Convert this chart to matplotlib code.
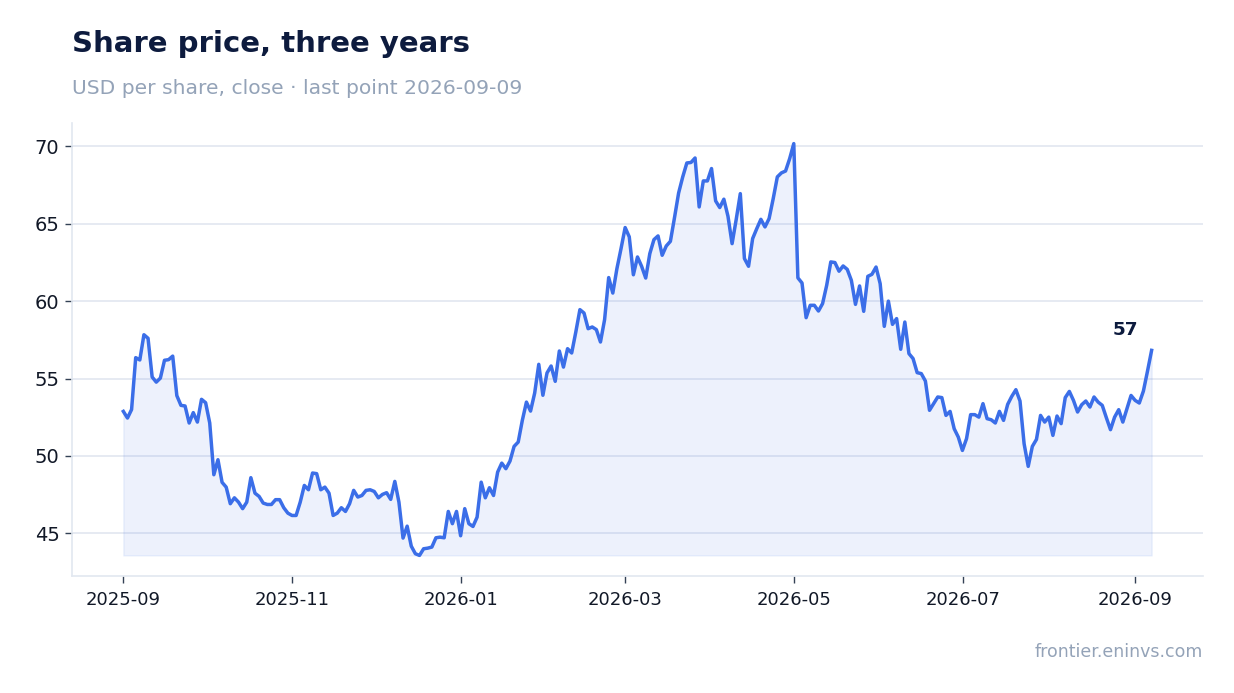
import numpy as np
import pandas as pd
import matplotlib
matplotlib.use('Agg')
import matplotlib.pyplot as plt
import matplotlib.dates as mdates

# closing prices in order
price = [
    52.88, 52.45, 53.0, 56.35, 56.2, 57.83, 57.6, 55.1, 54.77, 55.03,
    56.18, 56.22, 56.45, 53.9, 53.27, 53.23, 52.13, 52.8, 52.19, 53.66,
    53.44, 52.13, 48.79, 49.76, 48.3, 47.99, 46.92, 47.3, 47.02, 46.6,
    47.02, 48.6, 47.6, 47.39, 46.96, 46.87, 46.87, 47.18, 47.18, 46.66,
    46.31, 46.16, 46.16, 47.02, 48.1, 47.82, 48.9, 48.86, 47.82, 47.99,
    47.6, 46.16, 46.31, 46.66, 46.42, 46.92, 47.78, 47.35, 47.45, 47.78,
    47.82, 47.71, 47.3, 47.52, 47.63, 47.2, 48.36, 47.02, 44.7, 45.47,
    44.18, 43.69, 43.58, 44.01, 44.05, 44.12, 44.72, 44.76, 44.72, 46.42,
    45.63, 46.42, 44.85, 46.6, 45.63, 45.45, 46.05, 48.31, 47.3, 47.95,
    47.45, 48.96, 49.54, 49.18, 49.67, 50.62, 50.9, 52.3, 53.48, 52.9,
    54.06, 55.92, 53.92, 55.36, 55.81, 54.82, 56.78, 55.74, 56.93, 56.65,
    58.0, 59.45, 59.23, 58.22, 58.33, 58.16, 57.36, 58.8, 61.52, 60.52,
    62.1, 63.39, 64.75, 64.15, 61.7, 62.85, 62.25, 61.49, 63.07, 63.97,
    64.21, 62.96, 63.56, 63.86, 65.39, 66.98, 68.02, 68.92, 68.95, 69.24,
    66.08, 67.76, 67.76, 68.56, 66.47, 66.04, 66.58, 65.48, 63.71, 65.27,
    66.94, 62.75, 62.25, 64.04, 64.68, 65.28, 64.79, 65.33, 66.62, 68.02,
    68.28, 68.4, 69.2, 70.17, 61.5, 61.17, 58.93, 59.73, 59.73, 59.36,
    59.84, 61.02, 62.53, 62.49, 61.93, 62.27, 62.05, 61.34, 59.79, 60.98,
    59.34, 61.6, 61.73, 62.2, 61.13, 58.37, 60.0, 58.5, 58.87, 56.89,
    58.65, 56.61, 56.29, 55.38, 55.32, 54.84, 52.95, 53.38, 53.81, 53.77,
    52.62, 52.88, 51.76, 51.22, 50.36, 51.12, 52.67, 52.67, 52.51, 53.38,
    52.41, 52.34, 52.13, 52.88, 52.3, 53.33, 53.85, 54.28, 53.55, 50.79,
    49.33, 50.62, 51.07, 52.62, 52.19, 52.51, 51.33, 52.58, 52.09, 53.77,
    54.17, 53.59, 52.84, 53.31, 53.55, 53.16, 53.81, 53.48, 53.27, 52.47,
    51.7, 52.51, 52.99, 52.19, 53.05, 53.91, 53.59, 53.42, 54.19, 55.48,
    56.82,
]
start_date = '2025-09-01'
end_date = '2026-09-07'
dates = pd.date_range(start_date, end_date, periods=len(price))

title = 'Share price, three years'
subtitle = 'USD per share, close \u00b7 last point 2026-09-09'
source = 'frontier.eninvs.com'

line_c = '#3b6ee8'
navy = '#0d1b3e'
grey = '#94a3b8'

fig = plt.figure(figsize=(12.34, 6.93), dpi=100)
ax = fig.add_axes([0.0583, 0.1688, 0.9166, 0.6537])

ax.fill_between(dates, price, min(price), color=line_c, alpha=0.09, lw=1)
ax.plot(dates, price, color=line_c, lw=2.5)

last = price[-1]
ax.annotate(f'{last:.0f}', (dates[-1], last), xytext=(-19, 8.5),
            textcoords='offset points', ha='center', va='bottom',
            fontsize=13.2, fontweight='bold', color=navy)

ax.xaxis.set_major_locator(mdates.MonthLocator(bymonth=[1, 3, 5, 7, 9, 11]))
ax.xaxis.set_major_formatter(mdates.DateFormatter('%Y-%m'))
ax.set_yticks([45, 50, 55, 60, 65, 70])

ax.grid(axis='y', color='#e2e6f0', lw=1.2)
ax.set_axisbelow(True)
for s in ['top', 'right']:
    ax.spines[s].set_visible(False)
for s in ['left', 'bottom']:
    ax.spines[s].set_color('#e2e8f0')
    ax.spines[s].set_linewidth(1.2)
ax.tick_params(axis='both', colors='#334155', labelcolor='#111827', length=5, width=1)
ax.tick_params(axis='y', labelsize=14, pad=4)
ax.tick_params(axis='x', labelsize=13, pad=6)

fig.text(72/1234, 1 - 44/693, title, fontsize=21, fontweight='bold', color=navy, va='center')
fig.text(72/1234, 1 - 88/693, subtitle, fontsize=14.6, color=grey, va='center')
fig.text(1203/1234, 1 - 652/693, source, fontsize=12.5, color=grey, ha='right', va='center')

plt.savefig('out.png', dpi=100)
